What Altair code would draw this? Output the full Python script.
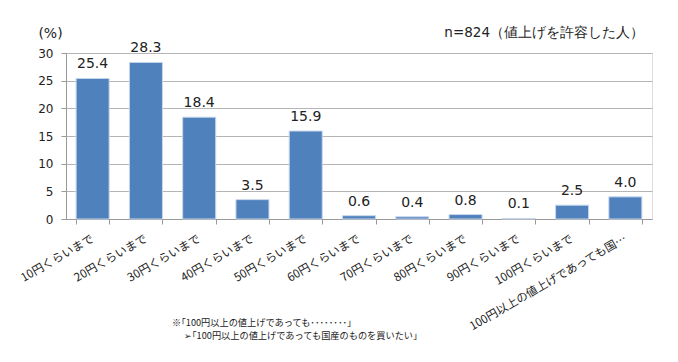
import altair as alt
import pandas as pd

categories = ["10円くらいまで", "20円くらいまで", "30円くらいまで", "40円くらいまで",
              "50円くらいまで", "60円くらいまで", "70円くらいまで", "80円くらいまで",
              "90円くらいまで", "100円くらいまで", "100円以上の値上げであっても国…"]
values = [25.4, 28.3, 18.4, 3.5, 15.9, 0.6, 0.4, 0.8, 0.1, 2.5, 4.0]
y_ticks = [0, 5, 10, 15, 20, 25, 30]
note_line1 = "※｢100円以上の値上げであっても････････｣"
note_line2 = "➢｢100円以上の値上げであっても国産のものを買いたい｣"
n_label = "n=824（値上げを許容した人）"
y_unit = "(%)"

df = pd.DataFrame({"cat": categories, "val": values})
df["lbl"] = df["val"].map(lambda v: f"{v:.1f}")

W, H = 586, 166
FONT_NUM = "DejaVu Sans"
FONT_JP = "Noto Sans CJK JP"

x = alt.X("cat:N", sort=categories,
          scale=alt.Scale(paddingInner=0.38, paddingOuter=0.19),
          axis=alt.Axis(title=None, labelAngle=-30, labelAlign="right", labelBaseline="middle",
                        labelFont=FONT_JP, labelFontSize=11.5, labelColor="#222",
                        labelPadding=14, tickBand="extent", tickSize=5, tickColor="#999",
                        domainColor="#999", labelLimit=300, labelOverlap=False))
y = alt.Y("val:Q", scale=alt.Scale(domain=[0, 30], nice=False),
          axis=alt.Axis(values=y_ticks, title=y_unit, titleAngle=0, titleX=-16, titleY=-20,
                        titleAlign="center", titleBaseline="middle", titleFont=FONT_NUM,
                        titleFontSize=14, titleFontWeight="normal", titleColor="#222",
                        labelFont=FONT_NUM, labelFontSize=12, labelColor="#222",
                        labelPadding=8, tickSize=5, tickColor="#999", domainColor="#999",
                        gridColor="#b5b5b5", gridWidth=1, labelOverlap=False))

base = alt.Chart(df)
bars = base.mark_bar(color="#4f81bd", stroke="#c9d6ea", strokeWidth=1).encode(x=x, y=y)
labels = base.mark_text(baseline="bottom", dy=-7, font=FONT_NUM, fontSize=14, color="#222").encode(
    x=x, y=y, text="lbl:N")

ann = alt.Chart(pd.DataFrame({"t": [n_label]})).mark_text(
    align="right", baseline="middle", font=FONT_NUM, fontSize=13.5, color="#222").encode(
    x=alt.value(578), y=alt.value(-20), text="t:N")

note1 = alt.Chart(pd.DataFrame({"t": [note_line1]})).mark_text(
    align="left", baseline="middle", font=FONT_JP, fontSize=9.2, color="#222").encode(
    x=alt.value(106), y=alt.value(269.5), text="t:N")
note2 = alt.Chart(pd.DataFrame({"t": [note_line2]})).mark_text(
    align="left", baseline="middle", font=FONT_JP, fontSize=9.2, color="#222").encode(
    x=alt.value(118), y=alt.value(283), text="t:N")

chart = alt.layer(bars, labels, ann, note1, note2).properties(
    width=W, height=H,
    autosize=alt.AutoSizeParams(type="none"),
    padding={"left": 58, "top": 45, "right": 18, "bottom": 135},
).configure_view(stroke="#b5b5b5").configure(background="white")

chart.save("out.html", embed_options={"renderer": "svg", "actions": False})
